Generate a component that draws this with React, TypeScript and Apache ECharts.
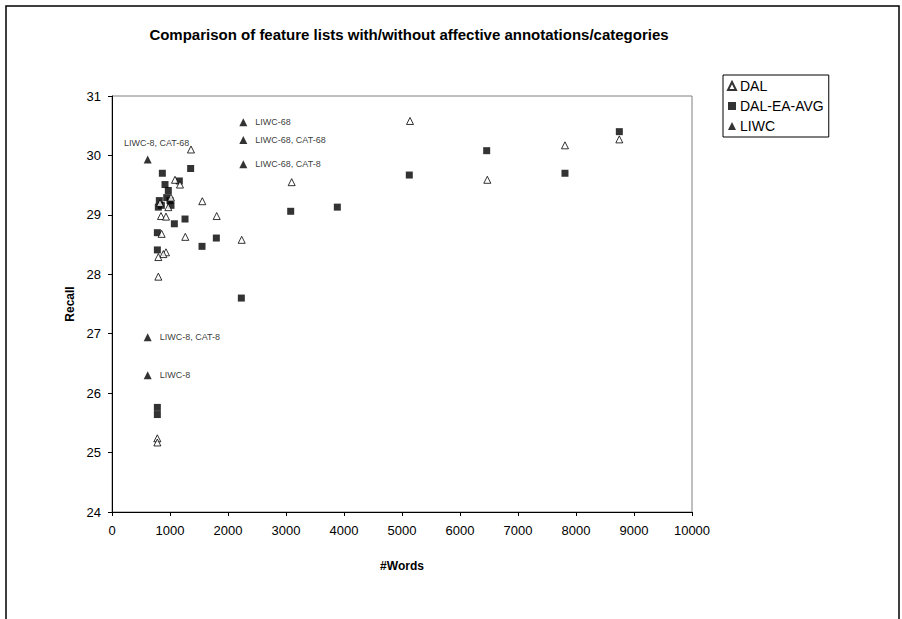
import React, { useEffect, useRef } from "react";
import * as echarts from "echarts";

const dalX = [1362, 1086, 1172, 1557, 1017, 828, 971, 1805, 845, 931, 1264, 2236, 856, 931, 885, 799, 799, 782, 782, 3098, 5138, 6471, 7810, 8747];
const dalY = [30.1, 29.59, 29.51, 29.23, 29.29, 29.2, 29.13, 28.98, 28.98, 28.97, 28.63, 28.58, 28.68, 28.37, 28.34, 28.29, 27.96, 25.24, 25.17, 29.55, 30.58, 29.59, 30.17, 30.27];

const eaX = [868, 1356, 1161, 914, 971, 943, 816, 1000, 851, 1017, 799, 1259, 1075, 782, 1799, 1552, 782, 2230, 782, 782, 3081, 3885, 5126, 6460, 7810, 8747];
const eaY = [29.7, 29.78, 29.57, 29.51, 29.41, 29.29, 29.24, 29.24, 29.16, 29.16, 29.13, 28.93, 28.85, 28.7, 28.61, 28.47, 28.41, 27.6, 25.76, 25.64, 29.06, 29.13, 29.67, 30.08, 29.7, 30.4];

const liwcX = [615, 2264, 2264, 2264, 615, 615];
const liwcY = [29.93, 30.56, 30.26, 29.85, 26.94, 26.3];
const liwcNames = ["LIWC-8, CAT-68", "LIWC-68", "LIWC-68, CAT-68", "LIWC-68, CAT-8", "LIWC-8, CAT-8", "LIWC-8"];

const seriesNames = ["DAL", "DAL-EA-AVG", "LIWC"];
const xTicks = { min: 0, max: 10000, step: 1000 };
const yTicks = { min: 24, max: 31, step: 1 };

const FONT = "'Liberation Sans', Arial, sans-serif";

export default function App() {
  const ref = useRef<HTMLDivElement>(null);
  useEffect(() => {
    if (!ref.current) return;
    const chart = echarts.init(ref.current, undefined, { renderer: "svg" });
    const zip = (xs: number[], ys: number[]) => xs.map((x, i) => [x, ys[i]]);
    chart.setOption({
      animation: false,
      backgroundColor: "#fff",
      textStyle: { fontFamily: FONT, color: "#000" },
      title: {
        text: "Comparison of feature lists with/without affective annotations/categories",
        left: 404,
        textAlign: "center",
        top: 22,
        textStyle: { fontFamily: FONT, fontSize: 15, fontWeight: "bold", color: "#000" },
      },
      legend: {
        orient: "vertical",
        left: 723,
        top: 75,
        data: seriesNames,
        itemWidth: 8,
        itemHeight: 8,
        itemGap: 6,
        padding: [4, 5, 4, 4],
        borderColor: "#000",
        borderWidth: 1,
        textStyle: { fontFamily: FONT, fontSize: 14, color: "#000", padding: [0, 0, 0, -1] },
      },
      grid: {
        left: 112,
        top: 96,
        width: 580,
        height: 416,
        show: true,
        borderColor: "#808080",
        borderWidth: 1,
      },
      xAxis: {
        type: "value",
        min: xTicks.min,
        max: xTicks.max,
        interval: xTicks.step,
        name: "#Words",
        nameLocation: "middle",
        nameGap: 48,
        nameTextStyle: { fontFamily: FONT, fontSize: 12, fontWeight: "bold", color: "#000" },
        axisLine: { show: true, lineStyle: { color: "#000", width: 1 } },
        axisTick: { show: true, inside: false, length: 4, lineStyle: { color: "#000" } },
        axisLabel: {
          fontFamily: FONT,
          fontSize: 13,
          color: "#000",
          margin: 12,
          formatter: (v: number) => String(v),
        },
        splitLine: { show: false },
      },
      yAxis: {
        type: "value",
        min: yTicks.min,
        max: yTicks.max,
        interval: yTicks.step,
        name: "Recall",
        nameLocation: "middle",
        nameGap: 10,
        nameTextStyle: { fontFamily: FONT, fontSize: 12, fontWeight: "bold", color: "#000" },
        axisLine: { show: true, lineStyle: { color: "#000", width: 1 } },
        axisTick: { show: true, inside: false, length: 4, lineStyle: { color: "#000" } },
        axisLabel: { fontFamily: FONT, fontSize: 13, color: "#000", margin: 11, formatter: (v: number) => String(v) },
        splitLine: { show: false },
      },
      graphic: [
        {
          type: "rect",
          silent: true,
          shape: { x: 6, y: 6, width: 893, height: 700 },
          style: { fill: "none", stroke: "#000", lineWidth: 1.5 },
        },
      ],
      series: [
        {
          name: seriesNames[0],
          type: "scatter",
          symbol: "triangle",
          symbolSize: 7,
          itemStyle: { color: "#fff", borderColor: "#000", borderWidth: 1 },
          data: zip(dalX, dalY),
          z: 3,
        },
        {
          name: seriesNames[1],
          type: "scatter",
          symbol: "rect",
          symbolSize: 7,
          itemStyle: { color: "#000" },
          data: zip(eaX, eaY),
          z: 2,
        },
        {
          name: seriesNames[2],
          type: "scatter",
          symbol: "triangle",
          symbolSize: 8,
          itemStyle: { color: "#000" },
          data: liwcX.map((x, i) => ({
            value: [x, liwcY[i]],
            name: liwcNames[i],
            label:
              i === 0
                ? { show: true, position: "top", offset: [9, -3] }
                : { show: true, position: "right", distance: 8 },
          })),
          label: {
            show: true,
            formatter: (p: any) => p.name,
            fontFamily: FONT,
            fontSize: 9,
            color: "#000",
          },
          z: 4,
        },
      ],
    });
    return () => chart.dispose();
  }, []);
  return (
    <div
      ref={ref}
      style={{ position: "fixed", left: 0, top: 0, width: 902, height: 619, background: "#fff" }}
    />
  );
}
